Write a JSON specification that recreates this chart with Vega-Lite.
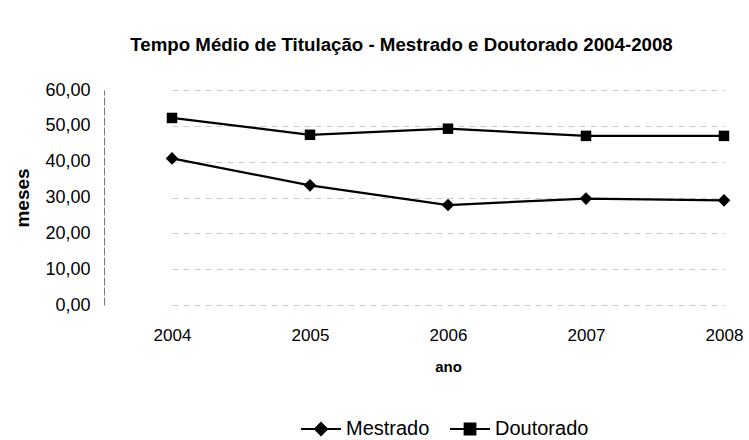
{
  "$schema": "https://vega.github.io/schema/vega-lite/v6.json",
  "width": 645,
  "height": 215,
  "autosize": {"type": "none"},
  "padding": {"left": 104, "top": 90, "right": 0, "bottom": 135},
  "background": "white",
  "title": {
    "text": "Tempo Médio de Titulação - Mestrado e Doutorado 2004-2008",
    "font": "Liberation Sans",
    "fontSize": 18.7,
    "fontWeight": "bold",
    "color": "black",
    "anchor": "middle",
    "dx": -25,
    "offset": 26
  },
  "config": {
    "view": {"stroke": null},
    "font": "Liberation Sans"
  },
  "data": {
    "values": [
      {"ano": "2004", "serie": "Mestrado", "meses": 40.9},
      {"ano": "2005", "serie": "Mestrado", "meses": 33.4},
      {"ano": "2006", "serie": "Mestrado", "meses": 27.9},
      {"ano": "2007", "serie": "Mestrado", "meses": 29.7},
      {"ano": "2008", "serie": "Mestrado", "meses": 29.2},
      {"ano": "2004", "serie": "Doutorado", "meses": 52.2},
      {"ano": "2005", "serie": "Doutorado", "meses": 47.5},
      {"ano": "2006", "serie": "Doutorado", "meses": 49.2},
      {"ano": "2007", "serie": "Doutorado", "meses": 47.2},
      {"ano": "2008", "serie": "Doutorado", "meses": 47.2}
    ]
  },
  "encoding": {
    "x": {
      "field": "ano",
      "type": "ordinal",
      "scale": {"type": "point", "range": [68, 620], "padding": 0},
      "axis": {
        "title": "ano",
        "titleFont": "Liberation Sans",
        "titleFontSize": 15,
        "titleFontWeight": "bold",
        "titleColor": "black",
        "titlePadding": 16,
        "labelAngle": 0,
        "labelFont": "Liberation Sans",
        "labelFontSize": 17,
        "labelColor": "black",
        "labelPadding": 22,
        "ticks": false,
        "domain": false,
        "grid": false
      }
    },
    "y": {
      "field": "meses",
      "type": "quantitative",
      "scale": {"domain": [0, 60], "nice": false, "zero": true},
      "axis": {
        "title": "meses",
        "titleFont": "Liberation Sans",
        "titleFontSize": 19,
        "titleFontWeight": "bold",
        "titleColor": "black",
        "titlePadding": 12,
        "values": [0, 10, 20, 30, 40, 50, 60],
        "labelExpr": "replace(format(datum.value, '.2f'), '.', ',')",
        "labelFont": "Liberation Sans",
        "labelFontSize": 18,
        "labelColor": "black",
        "labelPadding": 14,
        "ticks": false,
        "domain": true,
        "domainColor": "#777777",
        "domainDash": [8, 2],
        "grid": true,
        "gridColor": "#999999",
        "gridDash": [6, 5],
        "gridOpacity": 0.5
      }
    }
  },
  "layer": [
    {
      "mark": {"type": "line", "color": "black", "strokeWidth": 2.3},
      "encoding": {"detail": {"field": "serie"}}
    },
    {
      "mark": {"type": "point", "filled": true, "color": "black", "opacity": 1},
      "encoding": {
        "shape": {
          "field": "serie",
          "type": "nominal",
          "scale": {"domain": ["Mestrado", "Doutorado"], "range": ["diamond", "square"]},
          "legend": null
        },
        "size": {
          "field": "serie",
          "type": "nominal",
          "scale": {"domain": ["Mestrado", "Doutorado"], "range": [160, 110]},
          "legend": null
        }
      }
    },
    {
      "transform": [{"filter": "datum.serie == 'none'"}],
      "mark": {"type": "point", "filled": false, "color": "black", "strokeWidth": 2, "opacity": 1},
      "encoding": {
        "shape": {
          "field": "serie",
          "type": "nominal",
          "scale": {
            "domain": ["Mestrado", "Doutorado"],
            "range": [
              "M-1,0L1,0M0,-0.3L0.3,0L0,0.3L-0.3,0ZM-0.2,-0.1L-0.2,0.1M-0.1,-0.2L-0.1,0.2M0,-0.3L0,0.3M0.1,-0.2L0.1,0.2M0.2,-0.1L0.2,0.1",
              "M-1,0L1,0M-0.27,-0.27L0.27,-0.27L0.27,0.27L-0.27,0.27ZM-0.18,-0.27L-0.18,0.27M-0.09,-0.27L-0.09,0.27M0,-0.27L0,0.27M0.09,-0.27L0.09,0.27M0.18,-0.27L0.18,0.27"
            ]
          },
          "legend": {
            "title": null,
            "orient": "none",
            "legendX": 196,
            "legendY": 318,
            "direction": "horizontal",
            "symbolSize": 1600,
            "symbolStrokeColor": "black",
            "symbolStrokeWidth": 2,
            "symbolOpacity": 1,
            "labelFont": "Liberation Sans",
            "labelFontSize": 20,
            "labelColor": "black",
            "labelOffset": 4,
            "columnPadding": 16
          }
        }
      }
    }
  ],
  "resolve": {"scale": {"shape": "independent", "size": "independent"}}
}
